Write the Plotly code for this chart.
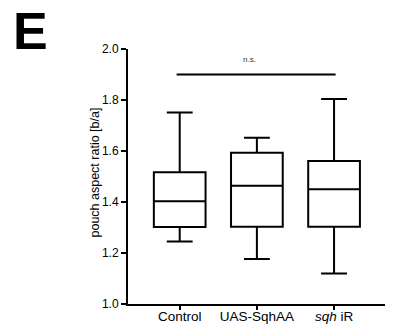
import plotly.graph_objects as go

categories = ["Control", "UAS-SqhAA", "<i>sqh</i> iR"]
lower = [1.245, 1.176, 1.12]
q1 = [1.302, 1.303, 1.303]
median = [1.403, 1.464, 1.450]
q3 = [1.517, 1.593, 1.561]
upper = [1.751, 1.652, 1.804]
y_ticks = [1.0, 1.2, 1.4, 1.6, 1.8, 2.0]
sig_y = 1.9
sig_label = "n.s."

FONT = "Liberation Sans, Arial, Helvetica, sans-serif"

fig = go.Figure()
fig.add_trace(go.Box(
    x=[0, 1, 2],
    q1=q1, median=median, q3=q3, lowerfence=lower, upperfence=upper,
    fillcolor="white",
    line=dict(color="black", width=2),
    width=0.67,
    whiskerwidth=0.5,
    boxpoints=False,
    hoverinfo="skip",
))

fig.add_shape(type="line", xref="x", yref="y", x0=-0.04, x1=2.02, y0=sig_y, y1=sig_y,
              line=dict(color="black", width=2))
fig.add_annotation(x=0.9, y=1.96, xref="x", yref="y", text=sig_label, showarrow=False,
                   font=dict(size=8, family=FONT, color="#333"))

fig.add_annotation(x=-0.455, y=1.07, xref="paper", yref="paper", text="<b>E</b>",
                   showarrow=False, xanchor="left", yanchor="middle",
                   font=dict(size=52, family=FONT, color="black"))
fig.add_annotation(x=-0.128, y=0.516, xref="paper", yref="paper",
                   text="pouch aspect ratio [b/a]", textangle=-90, showarrow=False,
                   xanchor="center", yanchor="middle",
                   font=dict(size=12.5, family=FONT, color="black"))

fig.update_layout(
    width=407, height=327,
    margin=dict(l=128, r=22, t=49, b=23, autoexpand=False),
    paper_bgcolor="white", plot_bgcolor="white",
    showlegend=False,
    font=dict(family=FONT, color="black"),
    xaxis=dict(
        range=[-0.67, 2.66], automargin=False,
        tickmode="array", tickvals=[0, 1, 2], ticktext=categories,
        showline=True, linecolor="black", linewidth=2,
        ticks="outside", ticklen=4, tickwidth=2, tickcolor="black",
        ticklabelstandoff=-5,
        showgrid=False, zeroline=False,
        tickfont=dict(size=13.5, family=FONT, color="black"),
    ),
    yaxis=dict(
        range=[1.0, 2.0], automargin=False,
        tickmode="array", tickvals=y_ticks, ticktext=[f"{v:.1f}" for v in y_ticks],
        showline=True, linecolor="black", linewidth=2,
        ticks="outside", ticklen=5, tickwidth=2, tickcolor="black",
        showgrid=False, zeroline=False,
        tickfont=dict(size=12, family=FONT, color="black"),
    ),
)

fig.write_html("out.html")
